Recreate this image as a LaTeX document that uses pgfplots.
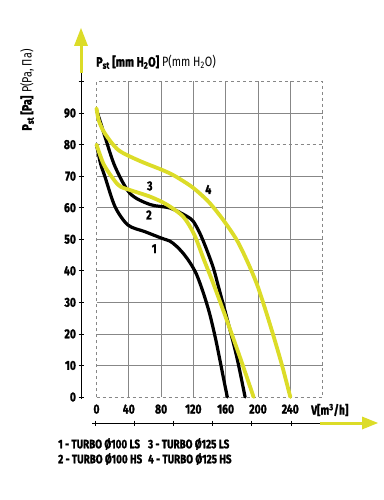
\documentclass[border=0pt]{standalone}
\usepackage{pgfplots}
\pgfplotsset{compat=1.18}
\usepackage{fontspec}
\setmainfont[FakeStretch=0.8, BoldFeatures={FakeBold=1.5}]{Fira Sans}
\definecolor{yel}{RGB}{220,220,40}
\definecolor{gridc}{RGB}{135,135,135}
\begin{document}
\begin{tikzpicture}
\begin{axis}[
  at={(96.5pt,-397pt)}, anchor=south west,
  width=226.1pt, height=315.5pt, scale only axis,
  xmin=0, xmax=280, ymin=0, ymax=100,
  xtick={40,80,...,240}, ytick={10,20,...,70,90},
  extra x ticks={0}, extra y ticks={0,80},
  grid=major, grid style={gridc, line width=0.8pt},
  extra x tick style={grid style={gridc, dashed, line width=0.8pt}},
  extra y tick style={grid style={gridc, dashed, line width=0.8pt}},
  axis line style={gridc, dashed, line width=0.8pt},
  major tick length=0pt,
  /pgf/number format/assume math mode=true,
  tick label style={font=\fontsize{13}{13}\selectfont\bfseries},
  yticklabel style={xshift=-17pt},
  xticklabel style={yshift=-4pt},
  clip=false,
]
% curve 1
\addplot[black, line width=3.2pt, smooth, line cap=round] coordinates {
 (0,80) (5,74) (10.5,69.8) (23,60.3) (39,54.5) (60,52.4) (81,50.3) (91,49.4)
 (99,47.8) (107.5,45.5) (116,42.5) (124,38.8) (132.3,33) (140,26.5) (147,19)
 (153,11.5) (158,5) (162,0)};
% curve 3
\addplot[black, line width=3.2pt, smooth, line cap=round] coordinates {
 (0,91) (5,87) (10.5,82.5) (23,73) (41.6,64.5) (66.4,61) (91,59.9) (111.7,57.3)
 (120,55.6) (128.2,51.8) (136,47) (144.6,41) (151,35) (161,25.5) (173.6,12.8) (184,0)};
% curve 2
\addplot[yel, line width=3.8pt, smooth, line cap=round] coordinates {
 (0,80) (4,77) (10.5,73) (27,67.2) (41.6,65.6) (66.4,63.5) (87,61) (107.5,57.1)
 (121,51.5) (132.3,44) (144.6,36) (160,25.3) (177.7,12.6) (194.5,0)};
% curve 4
\addplot[yel, line width=3.8pt, smooth, line cap=round] coordinates {
 (0,91.5) (3,87.5) (10.5,83.5) (27,78.3) (52,75) (81,72) (96,70.2) (116,67)
 (128,64.5) (140.5,61.4) (157,56.1) (173.6,49.8) (186,43.4) (198,36.2)
 (208,28.6) (219,19.5) (230,9.8) (240,0)};
\node[font=\fontsize{13}{13}\selectfont\bfseries] at (axis cs:71.5,47) {1};
\node[font=\fontsize{13}{13}\selectfont\bfseries] at (axis cs:65,57.7) {2};
\node[font=\fontsize{13}{13}\selectfont\bfseries] at (axis cs:66,66.9) {3};
\node[font=\fontsize{13}{13}\selectfont\bfseries] at (axis cs:138.5,65.8) {4};
\end{axis}
% y axis
\draw[black, line width=1pt] (81pt,-399pt) -- (81pt,-72pt);
\draw[yel, line width=3pt] (81pt,-73pt) -- (81pt,-44pt);
\fill[yel] (74pt,-46pt) -- (88pt,-46pt) -- (81pt,-28pt) -- cycle;
\foreach \v in {0,10,...,100} {
  \draw[black, line width=0.8pt] (78.5pt,{-397pt+3.155pt*\v}) -- (83.5pt,{-397pt+3.155pt*\v});
}
% x axis
\draw[black, line width=1pt] (92pt,-423pt) -- (321pt,-423pt);
\draw[yel, line width=3pt] (320pt,-423pt) -- (364pt,-423pt);
\fill[yel] (362pt,-416.5pt) -- (362pt,-429.5pt) -- (378pt,-423pt) -- cycle;
\foreach \x in {95,134.2,173.4,212.6,251.8,291} {
  \draw[black, line width=0.8pt] (\x pt,-420.5pt) -- (\x pt,-425.5pt);
}
% labels
\node[anchor=west, inner sep=0pt, font=\fontsize{13}{13}\selectfont\bfseries] at (311pt,-410pt) {V[m\textsuperscript{3}/h]};
\node[anchor=west, inner sep=0pt, font=\fontsize{13.5}{13.5}\selectfont] at (96pt,-62pt)
  {\textbf{P\textsubscript{st} [mm H\textsubscript{2}O]} P(mm H\textsubscript{2}O)};
\node[anchor=center, inner sep=0pt, rotate=90, font=\fontsize{13.5}{13.5}\selectfont] at (27pt,-90pt)
  {\textbf{P\textsubscript{st} [Pa]} P(Pa, Па)};
\node[anchor=west, inner sep=0pt, font=\fontsize{12.3}{12.3}\selectfont\bfseries] at (58pt,-444pt)
  {1 - TURBO Ø100 LS\hspace{8pt}3 - TURBO Ø125 LS};
\node[anchor=west, inner sep=0pt, font=\fontsize{12.3}{12.3}\selectfont\bfseries] at (58pt,-459pt)
  {2 - TURBO Ø100 HS\hspace{6pt}4 - TURBO Ø125 HS};
\pgfresetboundingbox
\path[use as bounding box] (0pt,0pt) rectangle (383pt,-500pt);
\end{tikzpicture}
\end{document}
